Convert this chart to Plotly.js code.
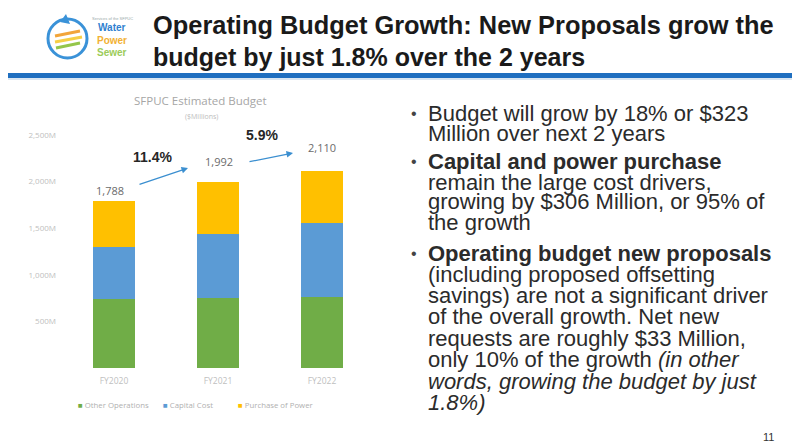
<!DOCTYPE html>
<html>
<head>
<meta charset="utf-8">
<script src="https://cdn.plot.ly/plotly-3.0.1.min.js"></script>
<style>html,body{margin:0;padding:0;background:#fff;}#chart{width:792px;height:445px;}</style>
</head>
<body>
<div id="chart"></div>
<script>
// ---- data ----
var categories = ["FY2020", "FY2021", "FY2022"];
var otherOperations = [745, 750, 762];
var capitalCost = [553, 686, 791];
var purchaseOfPower = [490, 556, 557];
var totalLabels = ["1,788", "1,992", "2,110"];
var yTickValues = [500, 1000, 1500, 2000, 2500];
var yTickLabels = ["500M", "1,000M", "1,500M", "2,000M", "2,500M"];
var seriesNames = ["Other Operations", "Capital Cost", "Purchase of Power"];

var titleLines = [
  "Operating Budget Growth: New Proposals grow the",
  "budget by just 1.8% over the 2 years"
];
var bulletLines = [
  {t: "Budget will grow by 18% or $323", b: true},
  {t: "Million over next 2 years"},
  {t: "<b>Capital and power purchase</b>", b: true},
  {t: "remain the large cost drivers,"},
  {t: "growing by $306 Million, or 95% of"},
  {t: "the growth"},
  {t: "<b>Operating budget new proposals</b>", b: true},
  {t: "(including proposed offsetting"},
  {t: "savings) are not a significant driver"},
  {t: "of the overall growth. Net new"},
  {t: "requests are roughly $33 Million,"},
  {t: "only 10% of the growth <i>(in other</i>"},
  {t: "<i>words, growing the budget by just</i>"},
  {t: "<i>1.8%)</i>"}
];
var bulletLineY = [113, 133, 162, 182, 202, 222, 253, 274, 295, 316, 338, 359, 381, 402];

// ---- helpers ----
var W = 792, H = 445;
function px(x){ return x / W; }
function py(y){ return 1 - y / H; }

var totals = categories.map(function(c, i){ return otherOperations[i] + capitalCost[i] + purchaseOfPower[i]; });

var colors = ["#70AD47", "#5B9BD5", "#FFC000"];
var seriesValues = [otherOperations, capitalCost, purchaseOfPower];
var traces = seriesValues.map(function(vals, k){
  return {
    type: "bar", x: categories, y: vals, name: seriesNames[k],
    marker: {color: colors[k]}, hoverinfo: "skip", showlegend: false
  };
});

var ann = [];
var sans = "Liberation Sans, Arial, sans-serif";
var open = "Open Sans, sans-serif";
// title
ann.push({xref:"paper", yref:"paper", x:px(151), y:py(25), xanchor:"left", yanchor:"middle", showarrow:false,
  text:"<b>"+titleLines[0]+"</b>", font:{family:sans, size:25.4, color:"#1a1a1a"}});
ann.push({xref:"paper", yref:"paper", x:px(151), y:py(57), xanchor:"left", yanchor:"middle", showarrow:false,
  text:"<b>"+titleLines[1]+"</b>", font:{family:sans, size:25, color:"#1a1a1a"}});
// logo text
ann.push({xref:"paper", yref:"paper", x:px(112), y:py(28), xanchor:"center", yanchor:"middle", showarrow:false,
  text:"<b>Water</b>", font:{family:sans, size:10, color:"#2f7fcf"}});
ann.push({xref:"paper", yref:"paper", x:px(112), y:py(40), xanchor:"center", yanchor:"middle", showarrow:false,
  text:"<b>Power</b>", font:{family:sans, size:10, color:"#f2b134"}});
ann.push({xref:"paper", yref:"paper", x:px(112), y:py(52), xanchor:"center", yanchor:"middle", showarrow:false,
  text:"<b>Sewer</b>", font:{family:sans, size:10, color:"#9ccc5a"}});
ann.push({xref:"paper", yref:"paper", x:px(112), y:py(18), xanchor:"center", yanchor:"middle", showarrow:false,
  text:"Services of the SFPUC", font:{family:sans, size:4, color:"#9aa"}});

// bullets text
bulletLines.forEach(function(l, i){
  ann.push({xref:"paper", yref:"paper", x:px(427), y:py(bulletLineY[i]), xanchor:"left", yanchor:"middle", showarrow:false,
    text: l.t, borderpad:0, font:{family:sans, size:22, color: "#2b2b2b"}});
  if (l.b) {
    ann.push({xref:"paper", yref:"paper", x:px(414), y:py(bulletLineY[i]), xanchor:"center", yanchor:"middle", showarrow:false,
      text:"•", font:{family:sans, size:16, color:"#444"}});
  }
});

// chart title
ann.push({xref:"paper", yref:"paper", x:px(200), y:py(100), xanchor:"center", yanchor:"middle", showarrow:false,
  text:"SFPUC Estimated Budget", font:{family:open, size:11.5, color:"#a6a6a6"}});
ann.push({xref:"paper", yref:"paper", x:px(201), y:py(116), xanchor:"center", yanchor:"middle", showarrow:false,
  text:"($Millions)", font:{family:open, size:7, color:"#bdbdbd"}});

// total labels
var labelShiftY = [1, 11, 14];
var labelShiftX = [-4, 1, 0];
categories.forEach(function(c, i){
  ann.push({x:c, y:totals[i], xref:"x", yref:"y", xanchor:"center", yanchor:"bottom", showarrow:false,
    yshift: labelShiftY[i], xshift: labelShiftX[i],
    text: totalLabels[i], font:{family:open, size:11, color:"#6b6b6b"}});
});

// growth labels and arrows
var growth = [];
for (var i = 1; i < totals.length; i++) growth.push(((totals[i]/totals[i-1]-1)*100).toFixed(1) + "%");
var growthPos = [[152,157],[262,135]];
var arrowHead = [[188,168],[293,153]];
var arrowTail = [[138,185],[248,162]];
growth.forEach(function(g, i){
  ann.push({xref:"paper", yref:"paper", x:px(growthPos[i][0]), y:py(growthPos[i][1]), xanchor:"center", yanchor:"middle",
    showarrow:false, text:"<b>"+g+"</b>", font:{family:sans, size:14, color:"#262626"}});
  ann.push({xref:"paper", yref:"paper", x:px(arrowHead[i][0]), y:py(arrowHead[i][1]), text:"", showarrow:true,
    ax: arrowTail[i][0]-arrowHead[i][0], ay: arrowTail[i][1]-arrowHead[i][1],
    arrowhead:2, arrowsize:1, arrowwidth:1.3, arrowcolor:"#3b8fd0", standoff:0});
});

// legend (series names with colour keys)
var legendX = [76, 161, 236];
seriesNames.forEach(function(n, k){
  ann.push({xref:"paper", yref:"paper", x:px(legendX[k]), y:py(405), xanchor:"left", yanchor:"middle", showarrow:false,
    text:'<span style="color:'+colors[k]+'">■</span> '+n, font:{family:open, size:7.8, color:"#b0b0b0"}});
});

// page number
ann.push({xref:"paper", yref:"paper", x:px(768), y:py(437), xanchor:"center", yanchor:"middle", showarrow:false,
  text:"11", font:{family:sans, size:11, color:"#333"}});

var shapes = [
  // title underline
  {type:"rect", xref:"paper", yref:"paper", x0:px(8), x1:px(792), y0:py(78), y1:py(73), fillcolor:"#1f6fc0", line:{width:0}},
  {type:"rect", xref:"paper", yref:"paper", x0:px(8), x1:px(792), y0:py(80), y1:py(78), fillcolor:"#d9e6f2", line:{width:0}},
  // logo
  {type:"circle", xref:"paper", yref:"paper", x0:px(48), x1:px(87), y0:py(58), y1:py(19), fillcolor:"#ffffff", line:{color:"#3a92d8", width:3}},
  {type:"line", xref:"paper", yref:"paper", x0:px(55), y0:py(36), x1:px(80), y1:py(31), line:{color:"#f2a53a", width:3}},
  {type:"line", xref:"paper", yref:"paper", x0:px(55), y0:py(42), x1:px(82), y1:py(37), line:{color:"#f6cf45", width:3}},
  {type:"line", xref:"paper", yref:"paper", x0:px(56), y0:py(48), x1:px(80), y1:py(43), line:{color:"#94c64a", width:3}},
  {type:"path", xref:"paper", yref:"paper", path:"M "+px(60)+" "+py(22)+" L "+px(66)+" "+py(14)+" L "+px(70)+" "+py(24)+" Z", fillcolor:"#3a92d8", line:{width:0}}
];

var layout = {
  width: W, height: H,
  margin: {l:0, r:0, t:0, b:0},
  paper_bgcolor: "#ffffff", plot_bgcolor: "#ffffff",
  barmode: "stack", bargap: 0.6,
  showlegend: false,
  xaxis: {domain:[px(62), px(374)], showgrid:false, zeroline:false, showline:false, ticks:"",
    tickfont:{family:open, size:8.5, color:"#c0c0c0"}, ticklabelstandoff:6, fixedrange:true},
  yaxis: {domain:[py(368), py(135)], range:[0, 2500], showgrid:false, zeroline:false, showline:false, ticks:"",
    tickvals: yTickValues, ticktext: yTickLabels, ticklabelstandoff:5,
    tickfont:{family:open, size:8, color:"#c0c0c0"}, fixedrange:true},
  annotations: ann,
  shapes: shapes
};

Plotly.newPlot("chart", traces, layout, {displayModeBar:false, staticPlot:true});
</script>
</body>
</html>
